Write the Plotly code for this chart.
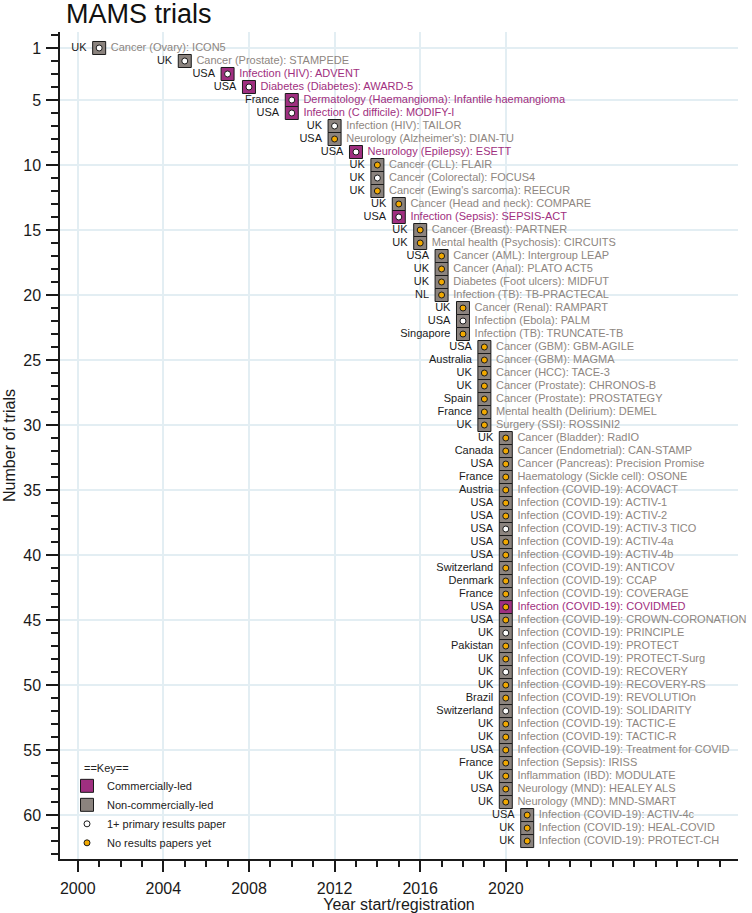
import plotly.graph_objects as go

# ---- data ----
trial_no = list(range(1, 63))
years = [2001, 2005, 2007, 2008, 2010, 2010, 2012, 2012, 2013, 2014,
         2014, 2014, 2015, 2015, 2016, 2016, 2017, 2017, 2017, 2017,
         2018, 2018, 2018, 2019, 2019, 2019, 2019, 2019, 2019, 2019,
         2020, 2020, 2020, 2020, 2020, 2020, 2020, 2020, 2020, 2020,
         2020, 2020, 2020, 2020, 2020, 2020, 2020, 2020, 2020, 2020,
         2020, 2020, 2020, 2020, 2020, 2020, 2020, 2020, 2020, 2021,
         2021, 2021]
countries = ["UK", "UK", "USA", "USA", "France", "USA", "UK", "USA", "USA", "UK",
             "UK", "UK", "UK", "USA", "UK", "UK", "USA", "UK", "UK", "NL",
             "UK", "USA", "Singapore", "USA", "Australia", "UK", "UK", "Spain", "France", "UK",
             "UK", "Canada", "USA", "France", "Austria", "USA", "USA", "USA", "USA", "USA",
             "Switzerland", "Denmark", "France", "USA", "USA", "UK", "Pakistan", "UK", "UK", "UK",
             "Brazil", "Switzerland", "UK", "UK", "USA", "France", "UK", "USA", "UK", "USA",
             "UK", "UK"]
areas = ["Cancer (Ovary)", "Cancer (Prostate)", "Infection (HIV)", "Diabetes (Diabetes)",
         "Dermatology (Haemangioma)", "Infection (C difficile)", "Infection (HIV)",
         "Neurology (Alzheimer's)", "Neurology (Epilepsy)", "Cancer (CLL)",
         "Cancer (Colorectal)", "Cancer (Ewing's sarcoma)", "Cancer (Head and neck)",
         "Infection (Sepsis)", "Cancer (Breast)", "Mental health (Psychosis)",
         "Cancer (AML)", "Cancer (Anal)", "Diabetes (Foot ulcers)", "Infection (TB)",
         "Cancer (Renal)", "Infection (Ebola)", "Infection (TB)", "Cancer (GBM)",
         "Cancer (GBM)", "Cancer (HCC)", "Cancer (Prostate)", "Cancer (Prostate)",
         "Mental health (Delirium)", "Surgery (SSI)", "Cancer (Bladder)",
         "Cancer (Endometrial)", "Cancer (Pancreas)", "Haematology (Sickle cell)"]
areas += ["Infection (COVID-19)"] * 21
areas += ["Infection (Sepsis)", "Inflammation (IBD)", "Neurology (MND)", "Neurology (MND)"]
areas += ["Infection (COVID-19)"] * 3
trials = ["ICON5", "STAMPEDE", "ADVENT", "AWARD-5", "Infantile haemangioma", "MODIFY-I",
          "TAILOR", "DIAN-TU", "ESETT", "FLAIR", "FOCUS4", "REECUR", "COMPARE",
          "SEPSIS-ACT", "PARTNER", "CIRCUITS", "Intergroup LEAP", "PLATO ACT5", "MIDFUT",
          "TB-PRACTECAL", "RAMPART", "PALM", "TRUNCATE-TB", "GBM-AGILE", "MAGMA",
          "TACE-3", "CHRONOS-B", "PROSTATEGY", "DEMEL", "ROSSINI2", "RadIO", "CAN-STAMP",
          "Precision Promise", "OSONE", "ACOVACT", "ACTIV-1", "ACTIV-2", "ACTIV-3 TICO",
          "ACTIV-4a", "ACTIV-4b", "ANTICOV", "CCAP", "COVERAGE", "COVIDMED",
          "CROWN-CORONATION", "PRINCIPLE", "PROTECT", "PROTECT-Surg", "RECOVERY",
          "RECOVERY-RS", "REVOLUTIOn", "SOLIDARITY", "TACTIC-E", "TACTIC-R",
          "Treatment for COVID", "IRISS", "MODULATE", "HEALEY ALS", "MND-SMART",
          "ACTIV-4c", "HEAL-COVID", "PROTECT-CH"]
commercial_trials = ["ADVENT", "AWARD-5", "Infantile haemangioma", "MODIFY-I", "ESETT",
                     "SEPSIS-ACT", "COVIDMED"]
results_trials = ["ICON5", "STAMPEDE", "ADVENT", "AWARD-5", "Infantile haemangioma",
                  "MODIFY-I", "TAILOR", "ESETT", "FOCUS4", "SEPSIS-ACT", "PALM",
                  "ACTIV-3 TICO", "PRINCIPLE", "RECOVERY", "SOLIDARITY"]

major_x_ticks = [2000, 2004, 2008, 2012, 2016, 2020]
major_y_ticks = [1, 5, 10, 15, 20, 25, 30, 35, 40, 45, 50, 55, 60]

# ---- styles ----
PURPLE = "#9f2f80"
GREY = "#8b837e"
GREY_TXT = "#8e8681"
ORANGE = "#f2a900"
GRID = "#e3eef3"
FONT = "Liberation Sans, Arial, sans-serif"

is_comm = [t in commercial_trials for t in trials]
has_res = [t in results_trials for t in trials]
labels = [f"{a}: {t}" for a, t in zip(areas, trials)]
label_colors = [PURPLE if c else GREY_TXT for c in is_comm]


def sel(vals, mask):
    return [v for v, m in zip(vals, mask) if m]


fig = go.Figure()

# boxes
fig.add_trace(go.Scatter(
    x=sel(years, is_comm), y=sel(trial_no, is_comm), mode="markers",
    name="Commercially-led",
    marker=dict(symbol="square", size=13, color=PURPLE, line=dict(color="#1a1a1a", width=1)),
    hoverinfo="skip"))
not_comm = [not c for c in is_comm]
fig.add_trace(go.Scatter(
    x=sel(years, not_comm), y=sel(trial_no, not_comm), mode="markers",
    name="Non-commercially-led",
    marker=dict(symbol="square", size=13, color=GREY, line=dict(color="#1a1a1a", width=1)),
    hoverinfo="skip"))
# dots
fig.add_trace(go.Scatter(
    x=sel(years, has_res), y=sel(trial_no, has_res), mode="markers",
    name="1+ primary results paper",
    marker=dict(symbol="circle", size=6, color="white", line=dict(color="#1a1a1a", width=1)),
    hoverinfo="skip"))
no_res = [not r for r in has_res]
fig.add_trace(go.Scatter(
    x=sel(years, no_res), y=sel(trial_no, no_res), mode="markers",
    name="No results papers yet",
    marker=dict(symbol="circle", size=6, color=ORANGE, line=dict(color="#1a1a1a", width=1)),
    hoverinfo="skip"))
# country labels (left)
fig.add_trace(go.Scatter(
    x=years, y=trial_no, mode="markers+text", text=countries,
    textposition="middle left", cliponaxis=False,
    textfont=dict(family=FONT, size=11, color="#1a1a1a"),
    marker=dict(size=18.5, color="rgba(0,0,0,0)"),
    showlegend=False, hoverinfo="skip"))
# trial labels (right)
fig.add_trace(go.Scatter(
    x=years, y=trial_no, mode="markers+text", text=labels,
    textposition="middle right", cliponaxis=False,
    textfont=dict(family=FONT, size=11, color=label_colors),
    marker=dict(size=17, color="rgba(0,0,0,0)"),
    showlegend=False, hoverinfo="skip"))

fig.update_layout(
    width=752, height=913,
    margin=dict(l=60, r=14, t=32, b=54, autoexpand=False),
    paper_bgcolor="white", plot_bgcolor="white",
    font=dict(family=FONT, color="#1a1a1a"),
    hovermode=False,
    title=dict(text="MAMS trials", x=66 / 752, xanchor="left", xref="container",
               y=1 - 14 / 913, yanchor="middle", yref="container",
               pad=dict(l=0, r=0, t=0, b=0),
               font=dict(family=FONT, size=27, color="#111111")),
    legend=dict(x=7 / 678, xanchor="left", y=0.106, yanchor="top",
                font=dict(family=FONT, size=11, color="#222222"),
                bgcolor="rgba(0,0,0,0)", borderwidth=0, traceorder="normal",
                itemclick=False, itemdoubleclick=False),
    annotations=[dict(text="==Key==", xref="paper", yref="paper", x=22 / 678,
                      y=(859 - 768) / 827, xanchor="left", yanchor="middle",
                      showarrow=False, font=dict(family=FONT, size=11, color="#222222"))],
)

fig.update_xaxes(
    range=[1999.17, 2030.85], automargin=False,
    tickmode="array", tickvals=major_x_ticks, ticktext=[str(v) for v in major_x_ticks],
    ticks="outside", ticklen=11, tickwidth=2, tickcolor="#1a1a1a",
    ticklabelstandoff=3,
    minor=dict(tickmode="linear", tick0=2000, dtick=1, ticks="outside", ticklen=6,
               tickwidth=2, tickcolor="#1a1a1a", showgrid=False),
    showgrid=True, gridcolor=GRID, gridwidth=2,
    showline=True, linecolor="#1a1a1a", linewidth=1.5,
    zeroline=False,
    tickfont=dict(family=FONT, size=16, color="#1a1a1a"),
    title=dict(text="Year start/registration", standoff=4,
               font=dict(family=FONT, size=16, color="#1a1a1a")),
)
fig.update_yaxes(
    range=[63.38, -0.23], automargin=False,
    tickmode="array", tickvals=major_y_ticks, ticktext=[str(v) for v in major_y_ticks],
    ticks="outside", ticklen=12, tickwidth=2, tickcolor="#1a1a1a",
    ticklabelstandoff=2,
    minor=dict(tickmode="linear", tick0=0, dtick=1, ticks="outside", ticklen=7,
               tickwidth=2, tickcolor="#1a1a1a", showgrid=False),
    showgrid=True, gridcolor=GRID, gridwidth=2,
    showline=True, linecolor="#1a1a1a", linewidth=1.5,
    zeroline=False,
    tickfont=dict(family=FONT, size=16, color="#1a1a1a"),
    title=dict(text="Number of trials", standoff=4,
               font=dict(family=FONT, size=16, color="#1a1a1a")),
)

fig.write_html("out.html", config={"displayModeBar": False},
               post_script="document.body.style.margin='0';document.body.style.overflow='hidden';")
